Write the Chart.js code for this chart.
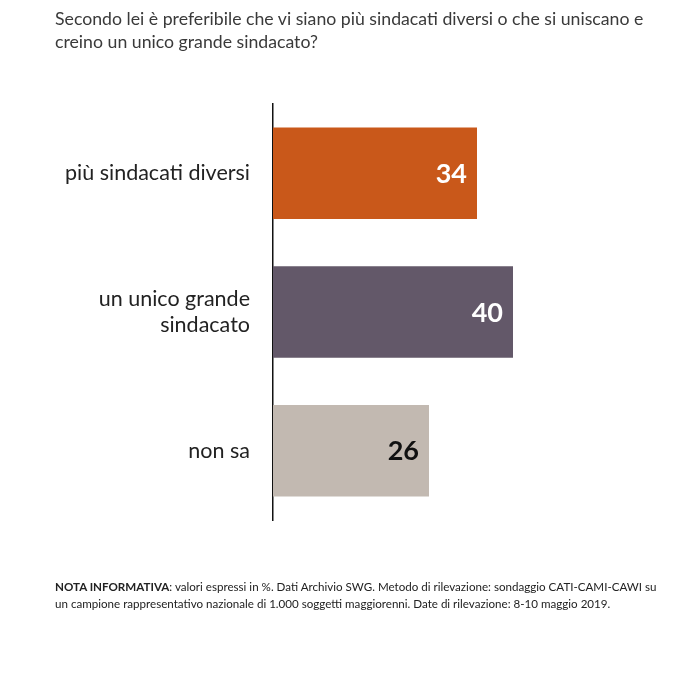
<!DOCTYPE html>
<html>
<head>
<meta charset="utf-8">
<script src="https://cdn.jsdelivr.net/npm/chart.js@4.4.0/dist/chart.umd.min.js"></script>
<style>
  html, body { margin: 0; padding: 0; background: #fff; }
  #wrap { position: relative; width: 700px; height: 700px; font-family: Lato, sans-serif; }
  #title { position: absolute; left: 55px; top: 7px; width: 645px; font-size: 17.7px; line-height: 23px; color: #3a3a3a; white-space: nowrap; }
  #note { position: absolute; left: 55px; top: 578px; width: 645px; font-size: 11.6px; line-height: 17px; color: #222; white-space: nowrap; }
  canvas { position: absolute; left: 0; top: 0; }
</style>
</head>
<body>
<div id="wrap">
  <canvas id="chart" width="700" height="700"></canvas>
  <div id="title">Secondo lei è preferibile che vi siano più sindacati diversi o che si uniscano e<br>creino un unico grande sindacato?</div>
  <div id="note"><b>NOTA INFORMATIVA</b>: valori espressi in %. Dati Archivio SWG. Metodo di rilevazione: sondaggio CATI-CAMI-CAWI su<br>un campione rappresentativo nazionale di 1.000 soggetti maggiorenni. Date di rilevazione: 8-10 maggio 2019.</div>
</div>
<script>
// dati
var categories = [["più sindacati diversi"], ["un unico grande", "sindacato"], ["non sa"]];
var values = [34, 40, 26];
var barColors = ["#C9581A", "#635869", "#C2B9B1"];
var labelColors = ["#ffffff", "#ffffff", "#111111"];

// etichette dei valori dentro la barra
var valueLabels = {
  id: 'valueLabels',
  afterDatasetsDraw: function (chart) {
    var ctx = chart.ctx;
    var meta = chart.getDatasetMeta(0);
    ctx.save();
    ctx.font = "bold 27px Lato, sans-serif";
    ctx.textAlign = "right";
    ctx.textBaseline = "middle";
    meta.data.forEach(function (bar, i) {
      ctx.fillStyle = labelColors[i];
      ctx.fillText(values[i], bar.x - 10, bar.y + 1);
    });
    ctx.restore();
  }
};

new Chart(document.getElementById("chart"), {
  type: 'bar',
  data: {
    labels: categories,
    datasets: [{
      data: values,
      backgroundColor: barColors,
      borderWidth: 0,
      barPercentage: 0.66,
      categoryPercentage: 1
    }]
  },
  options: {
    indexAxis: 'y',
    responsive: false,
    animation: false,
    layout: { padding: { left: 0, right: 67, top: 104, bottom: 180 } },
    plugins: {
      legend: { display: false },
      tooltip: { enabled: false }
    },
    scales: {
      x: { display: false, min: 0, max: 60 },
      y: {
        afterFit: function (scale) { scale.width = 273; },
        grid: { display: false },
        border: { display: true, color: '#111', width: 1.5 },
        ticks: {
          padding: 15,
          color: '#222',
          font: { family: 'Lato, sans-serif', size: 21.5, lineHeight: 1.25 }
        }
      }
    }
  },
  plugins: [valueLabels]
});
</script>
</body>
</html>
